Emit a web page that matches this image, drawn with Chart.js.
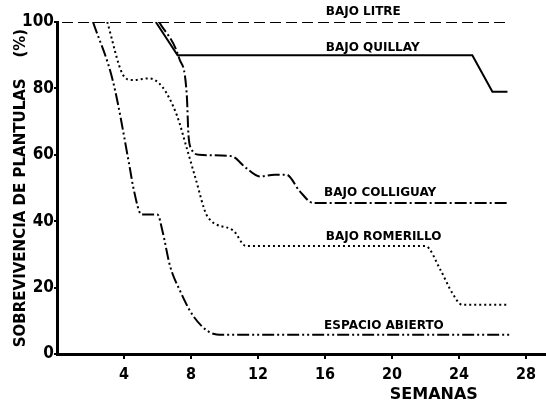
<!DOCTYPE html>
<html>
<head>
<meta charset="utf-8">
<script src="https://cdn.jsdelivr.net/npm/chart.js@4/dist/chart.umd.min.js"></script>
<style>
  html, body { margin: 0; padding: 0; background: #fff; }
  #chart { display: block; }
</style>
</head>
<body>
<canvas id="chart" width="546" height="405"></canvas>
<script>
// survival of seedlings (%) per week
const litreWeeks = [0.3, 27];
const litreValues = [100, 100];

const quillayWeeks = [5.9, 7.2, 24.8, 26.0, 26.9];
const quillayValues = [100, 90, 90, 79, 79];

const colliguayWeeks = [6.1, 7.3, 7.75, 7.85, 8.0, 8.5, 10.4, 11.3, 12.1, 13.0, 13.7, 14.5, 15.3, 27];
const colliguayValues = [100, 89, 78, 66, 62, 60, 59.6, 56, 53.5, 54, 54, 49, 45.5, 45.5];

const romerilloWeeks = [3.0, 3.95, 4.5, 5.5, 6.3, 7.15, 7.75, 8.25, 9.0, 10.5, 11.3, 22.0, 22.9, 23.6, 24.2, 27];
const romerilloValues = [100, 84, 82.5, 83, 80.4, 72, 62, 53.3, 41.3, 37.3, 32.5, 32.5, 25.3, 18.4, 14.8, 14.8];

const abiertoWeeks = [2.15, 3.35, 4.35, 4.55, 5.05, 6.0, 6.3, 6.75, 7.35, 8.1, 9.1, 9.9, 27];
const abiertoValues = [100, 82, 56, 50.3, 42, 42, 37, 26.5, 19, 11.7, 6.6, 5.8, 5.8];

const xTickValues = [4, 8, 12, 16, 20, 24, 28];
const yTickValues = [0, 20, 40, 60, 80, 100];

const curveLabels = [
  { text: "BAJO LITRE", week: 16.05, pct: 103 },
  { text: "BAJO QUILLAY", week: 16.05, pct: 92.3 },
  { text: "BAJO COLLIGUAY", week: 15.95, pct: 48.6 },
  { text: "BAJO ROMERILLO", week: 16.05, pct: 35.2 },
  { text: "ESPACIO ABIERTO", week: 15.95, pct: 8.6 },
];

const toPoints = (weeks, values) => weeks.map((w, i) => ({ x: w, y: values[i] }));

const lineStyle = (weeks, values, dash, smooth) => ({
  data: toPoints(weeks, values),
  borderColor: "#000",
  borderWidth: 2,
  borderDash: dash,
  pointRadius: 0,
  fill: false,
  tension: smooth ? 0.4 : 0,
  cubicInterpolationMode: smooth ? "monotone" : "default",
});

const curveLabelPlugin = {
  id: "curveLabels",
  afterDraw(chart) {
    const { ctx } = chart;
    const xs = chart.scales.x;
    const ys = chart.scales.y;
    ctx.save();
    ctx.fillStyle = "#000";
    ctx.font = "bold 12px 'DejaVu Sans'";
    ctx.textAlign = "left";
    ctx.textBaseline = "middle";
    curveLabels.forEach((l) => {
      ctx.fillText(l.text, xs.getPixelForValue(l.week), ys.getPixelForValue(l.pct));
    });
    ctx.font = "bold 16px 'DejaVu Sans'";
    ctx.textAlign = "center";
    ctx.fillText("SEMANAS", xs.getPixelForValue(22.5), 395);
    ctx.restore();
  },
};

new Chart(document.getElementById("chart"), {
  type: "line",
  data: {
    datasets: [
      lineStyle(litreWeeks, litreValues, [11, 5], false),
      lineStyle(quillayWeeks, quillayValues, [], false),
      lineStyle(colliguayWeeks, colliguayValues, [12, 3, 2, 3], true),
      lineStyle(romerilloWeeks, romerilloValues, [2, 3], true),
      lineStyle(abiertoWeeks, abiertoValues, [12, 3, 2, 3, 2, 3], true),
    ],
  },
  options: {
    responsive: false,
    devicePixelRatio: 1,
    animation: false,
    layout: { padding: { top: 22, right: 0, left: 0, bottom: 0 } },
    plugins: {
      legend: { display: false },
      tooltip: { enabled: false },
    },
    scales: {
      x: {
        type: "linear",
        min: 0,
        max: 29.2,
        afterFit: (s) => { s.height = 51; },
        afterBuildTicks: (s) => { s.ticks = xTickValues.map((v) => ({ value: v })); },
        grid: { drawOnChartArea: false, drawTicks: true, tickLength: 5, color: "#000", lineWidth: 2 },
        border: { display: true, color: "#000", width: 3 },
        ticks: {
          color: "#000",
          padding: 6,
          font: { family: "'DejaVu Sans Condensed', 'DejaVu Sans'", weight: "bold", size: 16 },
        },
      },
      y: {
        min: 0,
        max: 100,
        afterFit: (s) => { s.width = 57; },
        afterBuildTicks: (s) => { s.ticks = yTickValues.map((v) => ({ value: v })); },
        grid: { drawOnChartArea: false, drawTicks: true, tickLength: 3, color: "#000", lineWidth: 2 },
        border: { display: true, color: "#000", width: 3 },
        ticks: {
          color: "#000",
          padding: 0,
          font: { family: "'DejaVu Sans Condensed', 'DejaVu Sans'", weight: "bold", size: 17 },
        },
        title: {
          display: true,
          text: "SOBREVIVENCIA DE PLANTULAS    (%)",
          color: "#000",
          padding: { top: 12, bottom: 0 },
          font: { family: "'DejaVu Sans'", weight: "bold", size: 15 },
        },
      },
    },
  },
  plugins: [curveLabelPlugin],
});
</script>
</body>
</html>
